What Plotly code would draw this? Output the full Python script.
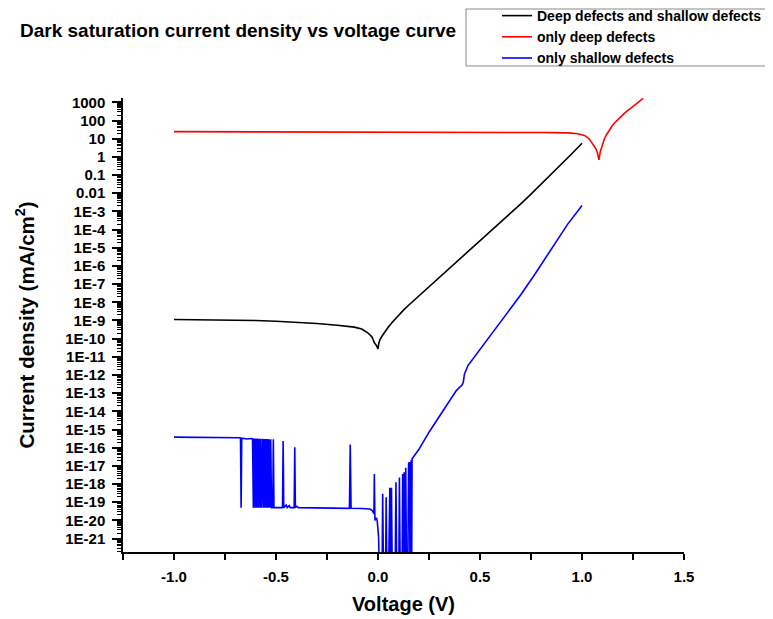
import plotly.graph_objects as go

# ---------------- data ----------------
black_v = [-1.0, -0.9, -0.8, -0.7, -0.6, -0.5, -0.4, -0.3, -0.2, -0.15, -0.116, -0.08, -0.05,
           -0.03, -0.018, -0.008,
           0.0, 0.004, 0.01, 0.02, 0.035, 0.05, 0.07, 0.097, 0.125, 0.15, 0.2, 0.25, 0.3, 0.35, 0.4,
           0.45, 0.5, 0.55, 0.6, 0.65, 0.7, 0.75, 0.8, 0.85, 0.9, 0.95, 1.0]
black_j = [1.12e-9, 1.11e-9, 1.08e-9, 1.05e-9, 1.0e-9, 9.1e-10, 8.1e-10, 6.8e-10, 5.5e-10, 4.9e-10,
           4.3e-10, 3.4e-10, 2.1e-10, 1.26e-10, 6.0e-11, 4.2e-11,
           2.75e-11, 5.6e-11, 8.9e-11, 1.4e-10, 2.5e-10, 4.2e-10, 7.9e-10, 1.78e-9, 3.7e-9, 6.9e-9,
           2.2e-8, 6.9e-8, 2.24e-7, 7.2e-7, 2.3e-6, 7.4e-6, 2.4e-5, 7.8e-5, 2.45e-4, 7.9e-4,
           2.6e-3, 8.9e-3, 3.1e-2, 0.11, 0.40, 1.48, 5.6]

red_v = [-1.0, -0.5, 0.0, 0.5, 0.8, 0.933, 0.98, 1.015, 1.035, 1.047, 1.065, 1.075, 1.083,
         1.09, 1.1, 1.11, 1.12, 1.135, 1.15, 1.165, 1.18, 1.21, 1.244, 1.27, 1.30]
red_j = [24.5, 24.3, 23.7, 22.9, 21.9, 20.9, 18.6, 14.8, 10.0, 6.3, 3.2, 1.8, 0.68,
         2.0, 5.2, 10.0, 16.6, 31.6, 55.0, 85.0, 126.0, 263.0, 525.0, 891.0, 1660.0]

blue_v = [-1.0, -0.9, -0.8, -0.72, -0.68, -0.674, -0.671, -0.668, -0.66, -0.64, -0.625, -0.615,
          -0.611, -0.607, -0.603, -0.599, -0.595, -0.591, -0.587, -0.583, -0.579, -0.575, -0.571,
          -0.566, -0.562, -0.558, -0.554, -0.55, -0.546, -0.542, -0.538, -0.534, -0.53, -0.526,
          -0.522, -0.516, -0.513, -0.51,
          -0.5, -0.48, -0.468, -0.465, -0.462, -0.45, -0.445, -0.435, -0.43, -0.411, -0.408, -0.405,
          -0.398, -0.39, -0.3, -0.2, -0.14, -0.136, -0.132, -0.08, -0.04, -0.028, -0.02, -0.018,
          -0.015, -0.008, -0.004, 0.003,
          0.007, 0.02, 0.023, 0.027, 0.037, 0.040, 0.044, 0.052, 0.058, 0.062, 0.066, 0.070,
          0.084, 0.088, 0.092, 0.102, 0.105, 0.109, 0.118, 0.121, 0.125, 0.128, 0.132, 0.136,
          0.140, 0.146, 0.150, 0.154, 0.157, 0.162, 0.165, 0.167,
          0.171, 0.2, 0.25, 0.277, 0.3, 0.35, 0.384, 0.40, 0.412, 0.418, 0.424, 0.441, 0.466,
          0.5, 0.539, 0.6, 0.65, 0.7, 0.769, 0.82, 0.867, 0.93, 1.0]
blue_j = [3.8e-16, 3.8e-16, 3.7e-16, 3.6e-16, 3.5e-16, 3.4e-16, 5e-20, 3.3e-16, 3.2e-16, 3.0e-16,
          3.2e-16, 3.1e-16,
          5e-20, 3.2e-16, 5e-20, 3.2e-16, 5e-20, 3.2e-16, 5e-20, 3.1e-16, 5e-20, 3.1e-16, 5e-20,
          3.1e-16, 5e-20, 3.0e-16, 5e-20, 3.0e-16, 5e-20, 3.0e-16, 5e-20, 2.9e-16, 5e-20, 2.9e-16,
          5e-20, 5e-20, 2.9e-16, 5e-20,
          5e-20, 5.2e-20, 5e-20, 2.3e-16, 5e-20, 7e-20, 5e-20, 6.5e-20, 5e-20, 5e-20, 1.05e-16, 5e-20,
          6e-20, 5e-20, 4.8e-20, 4.7e-20, 4.6e-20, 1.5e-16, 4.6e-20, 4.5e-20, 4.2e-20, 3.5e-20,
          2.3e-20, 3.6e-18, 1e-20, 1.4e-20, 1e-20, 1.2e-21,
          1e-23, 1e-23, 2.9e-19, 1e-23, 1e-23, 1.9e-19, 1e-23, 1e-23, 6.2e-19, 1e-23, 6.2e-19, 1e-23,
          1e-23, 1.26e-18, 1e-23, 1e-23, 2.3e-18, 1e-23, 1e-23, 3.6e-18, 1e-23, 4.5e-18, 1e-23,
          7.8e-18, 1e-23, 1e-23, 1.3e-17, 1.58e-17, 1e-23, 2.0e-17, 1e-23, 2.45e-17,
          2.8e-17, 7.9e-17, 7.1e-16, 2.0e-15, 5.0e-15, 3.5e-14, 1.38e-13, 2.1e-13, 2.8e-13, 4.0e-13,
          1.15e-12, 3.3e-12, 7.8e-12, 2.5e-11, 9.0e-11, 8.0e-10, 4.5e-9, 2.6e-8, 3.5e-7, 2.7e-6,
          1.9e-5, 2.0e-4, 2.1e-3]

series_names = ["Deep defects and shallow defects", "only deep defects", "only shallow defects"]

y_tick_vals = [1e3, 1e2, 1e1, 1e0, 1e-1, 1e-2, 1e-3, 1e-4, 1e-5, 1e-6, 1e-7, 1e-8, 1e-9, 1e-10,
               1e-11, 1e-12, 1e-13, 1e-14, 1e-15, 1e-16, 1e-17, 1e-18, 1e-19, 1e-20, 1e-21]
y_tick_text = ["1000", "100", "10", "1", "0.1", "0.01", "1E-3", "1E-4", "1E-5", "1E-6", "1E-7",
               "1E-8", "1E-9", "1E-10", "1E-11", "1E-12", "1E-13", "1E-14", "1E-15", "1E-16",
               "1E-17", "1E-18", "1E-19", "1E-20", "1E-21"]
x_tick_vals = [-1.0, -0.5, 0.0, 0.5, 1.0, 1.5]
x_tick_text = ["-1.0", "-0.5", "0.0", "0.5", "1.0", "1.5"]

# ---------------- figure ----------------
FONT = "Arial, Liberation Sans, Helvetica, sans-serif"
W, H = 773, 619
# plot area in figure pixels (page is offset by the 8px body margin)
PL, PR, PT, PB = 115, 676, 90, 544
PW, PH = PR - PL, PB - PT


def px(x):
    return (x - PL) / PW


def py(y):
    return (PB - y) / PH


fig = go.Figure()
for v, j, name, col in [(black_v, black_j, series_names[0], "black"),
                        (red_v, red_j, series_names[1], "red"),
                        (blue_v, blue_j, series_names[2], "blue")]:
    fig.add_trace(go.Scatter(x=v, y=j, mode="lines", name=name,
                             line=dict(color=col, width=1.6)))

minor_vals = []
for e in range(-22, 4):
    for m in range(2, 10):
        minor_vals.append(m * 10.0 ** e)

fig.update_layout(
    width=W, height=H,
    margin=dict(l=PL, r=W - PR, t=PT, b=H - PB, autoexpand=False),
    paper_bgcolor="white", plot_bgcolor="white",
    font=dict(family=FONT, color="black"),
    title=dict(text="Dark saturation current density vs voltage curve",
               x=12 / W, xref="container", xanchor="left",
               y=1 - 22 / H, yref="container", yanchor="middle",
               font=dict(size=19, weight="bold", family=FONT, color="black")),
    showlegend=True,
    legend=dict(x=px(489), y=py(-8), xanchor="left", yanchor="top",
                bgcolor="rgba(0,0,0,0)", borderwidth=0,
                font=dict(size=14, weight="bold", family=FONT, color="black"),
                tracegroupgap=0, itemwidth=30),
    shapes=[dict(type="rect", xref="paper", yref="paper",
                 x0=px(458), x1=px(764), y0=py(58), y1=py(1),
                 line=dict(color="#888888", width=1), fillcolor="rgba(0,0,0,0)",
                 layer="below")],
)

fig.update_xaxes(
    range=[-1.25, 1.5], showgrid=False, zeroline=False,
    showline=True, linecolor="black", linewidth=1.5,
    tickmode="array", tickvals=x_tick_vals, ticktext=x_tick_text,
    ticks="outside", ticklen=6, tickwidth=1.5, tickcolor="black", ticklabelstandoff=4,
    tickfont=dict(size=15, weight="bold", family=FONT, color="black"),
    minor=dict(dtick=0.25, ticks="outside", ticklen=6, tickwidth=1.5, tickcolor="black",
               showgrid=False),
    title=dict(text="Voltage (V)", standoff=13,
               font=dict(size=20, weight="bold", family=FONT, color="black")),
)

fig.update_yaxes(
    type="log", range=[-21.74, 3.24], showgrid=False, zeroline=False,
    showline=True, linecolor="black", linewidth=1.5,
    tickmode="array", tickvals=y_tick_vals, ticktext=y_tick_text,
    ticks="outside", ticklen=9, tickwidth=1.5, tickcolor="black", ticklabelstandoff=4,
    tickfont=dict(size=15, weight="bold", family=FONT, color="black"),
    minor=dict(tickvals=minor_vals, ticks="outside", ticklen=4, tickwidth=1, tickcolor="black",
               showgrid=False),
    title=dict(text="Current density (mA/cm<sup>2</sup>)", standoff=25,
               font=dict(size=20.5, weight="bold", family=FONT, color="black")),
)

fig.write_html("out.html")
